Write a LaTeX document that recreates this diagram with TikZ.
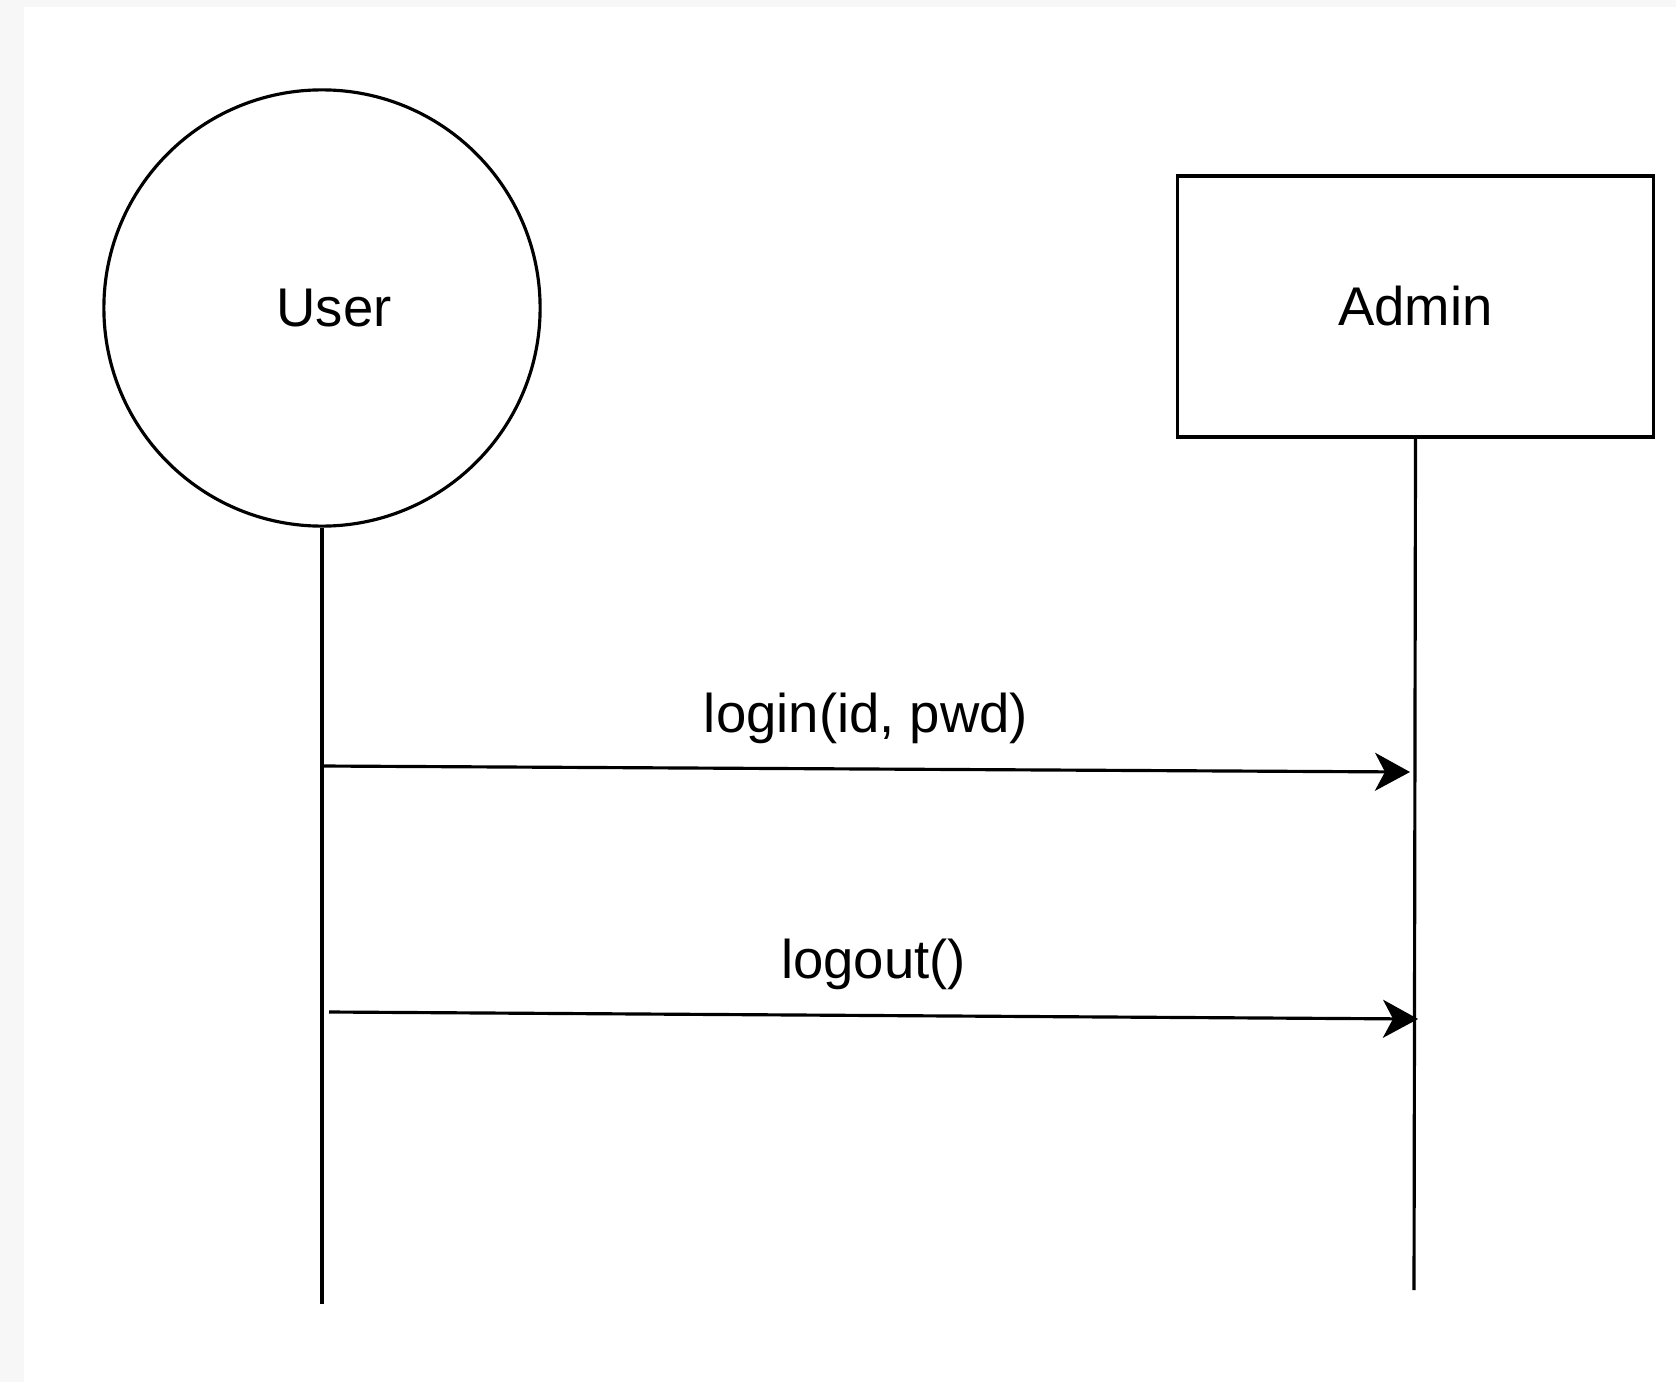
\documentclass[tikz,border=0pt]{standalone}
\usepackage{fontspec}
\setmainfont{Liberation Sans}
\usetikzlibrary{positioning,arrows.meta}

\definecolor{pagegrey}{HTML}{F7F7F7}

\begin{document}
\begin{tikzpicture}[x=0.01cm,y=-0.01cm,line width=0.9pt,font=\fontsize{15.5}{19}\selectfont]
        \fill[pagegrey] (0,0) rectangle (1676,1382);
        \fill[white] (24,7) rectangle (1676,1382);
        \useasboundingbox (0,0) rectangle (1676,1382);
        \node at (322,308)[circle,draw=black,minimum size=4.36cm,inner sep=0pt] (user) {\hspace{0.24cm}User};
        \node at (1415.5,306.5)[rectangle,draw=black,minimum width=4.75cm,minimum height=2.61cm,inner sep=0pt] (admin) {Admin};
        \coordinate (userend) at (322,1304);
        \coordinate (adminend) at (1414,1290);
        \draw (user.south) to (userend);
        \draw (admin.south) to (adminend);
        \coordinate (loginstart) at (322,766);
        \coordinate (loginend) at (1410,772);
        \coordinate (logoutstart) at (329,1012);
        \coordinate (logoutend) at (1418,1019);
        \draw [-{Stealth[length=0.35cm,width=0.38cm,inset=0.1cm]}] (loginstart) to node[above=0.12cm] (login) {login(id, pwd)} (loginend);
        \draw [-{Stealth[length=0.35cm,width=0.38cm,inset=0.1cm]}] (logoutstart) to node[above=0.12cm] (logout) {logout()} (logoutend);
    \end{tikzpicture}
\end{document}
